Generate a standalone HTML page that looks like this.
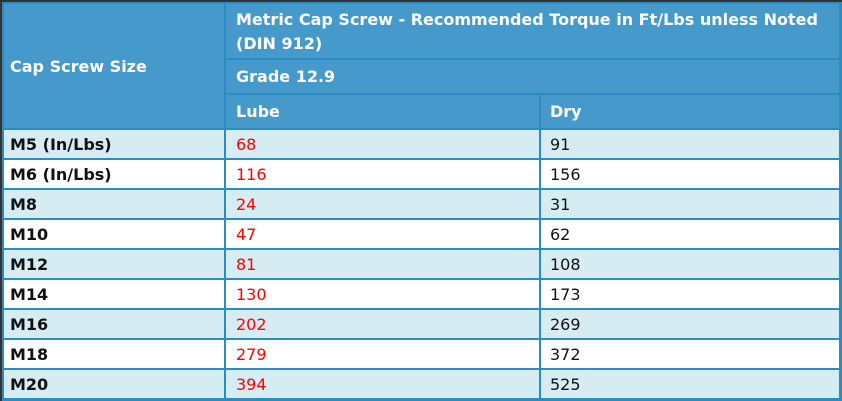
<!DOCTYPE html>
<html><head><meta charset="utf-8"><style>
*{margin:0;padding:0;box-sizing:border-box}
html,body{width:842px;height:401px;overflow:hidden;background:#2b8cc3}
body{position:relative;font-family:"DejaVu Sans","Liberation Sans",sans-serif;font-size:16px}
.c{position:absolute;white-space:nowrap;padding-left:10px;display:flex;align-items:center}
.f{padding-left:6px}
.g{padding-left:9px}
.h{background:#4599cb;color:#fff;font-weight:bold}
.l{background:#d4ecf2}
.w{background:#fff}
.b{font-weight:bold;color:#111}
.r{color:#ff0000}
.k{color:#111}
.dk{position:absolute;background:#333}
</style></head><body>
<div class="dk" style="left:0;top:0;width:842px;height:2px"></div>
<div class="dk" style="left:0;top:0;width:2px;height:401px"></div>

<div class="c h f" style="left:4px;top:4px;width:220px;height:124px">Cap Screw Size</div>
<div class="c h" style="left:226px;top:4px;width:613px;height:54px;line-height:24px;padding-top:1px">Metric Cap Screw - Recommended Torque in Ft/Lbs unless Noted<br>(DIN 912)</div>
<div class="c h" style="left:226px;top:60px;width:613px;height:33px">Grade 12.9</div>
<div class="c h" style="left:226px;top:95px;width:313px;height:33px">Lube</div>
<div class="c h g" style="left:541px;top:95px;width:298px;height:33px">Dry</div>

<div class="c l b f" style="left:4px;top:130px;width:220px;height:28px">M5 (In/Lbs)</div>
<div class="c l r" style="left:226px;top:130px;width:313px;height:28px">68</div>
<div class="c l k g" style="left:541px;top:130px;width:298px;height:28px">91</div>

<div class="c w b f" style="left:4px;top:160px;width:220px;height:28px">M6 (In/Lbs)</div>
<div class="c w r" style="left:226px;top:160px;width:313px;height:28px">116</div>
<div class="c w k g" style="left:541px;top:160px;width:298px;height:28px">156</div>

<div class="c l b f" style="left:4px;top:190px;width:220px;height:28px">M8</div>
<div class="c l r" style="left:226px;top:190px;width:313px;height:28px">24</div>
<div class="c l k g" style="left:541px;top:190px;width:298px;height:28px">31</div>

<div class="c w b f" style="left:4px;top:220px;width:220px;height:28px">M10</div>
<div class="c w r" style="left:226px;top:220px;width:313px;height:28px">47</div>
<div class="c w k g" style="left:541px;top:220px;width:298px;height:28px">62</div>

<div class="c l b f" style="left:4px;top:250px;width:220px;height:28px">M12</div>
<div class="c l r" style="left:226px;top:250px;width:313px;height:28px">81</div>
<div class="c l k g" style="left:541px;top:250px;width:298px;height:28px">108</div>

<div class="c w b f" style="left:4px;top:280px;width:220px;height:28px">M14</div>
<div class="c w r" style="left:226px;top:280px;width:313px;height:28px">130</div>
<div class="c w k g" style="left:541px;top:280px;width:298px;height:28px">173</div>

<div class="c l b f" style="left:4px;top:310px;width:220px;height:28px">M16</div>
<div class="c l r" style="left:226px;top:310px;width:313px;height:28px">202</div>
<div class="c l k g" style="left:541px;top:310px;width:298px;height:28px">269</div>

<div class="c w b f" style="left:4px;top:340px;width:220px;height:28px">M18</div>
<div class="c w r" style="left:226px;top:340px;width:313px;height:28px">279</div>
<div class="c w k g" style="left:541px;top:340px;width:298px;height:28px">372</div>

<div class="c l b f" style="left:4px;top:370px;width:220px;height:28px">M20</div>
<div class="c l r" style="left:226px;top:370px;width:313px;height:28px">394</div>
<div class="c l k g" style="left:541px;top:370px;width:298px;height:28px">525</div>
</body></html>
